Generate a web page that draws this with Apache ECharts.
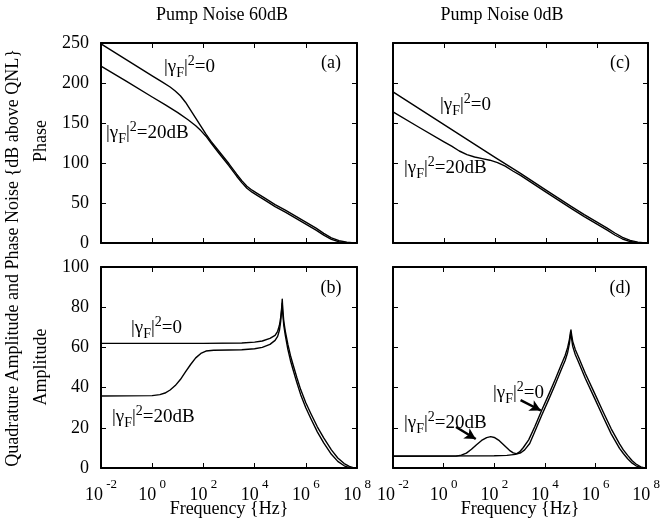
<!DOCTYPE html>
<html>
<head>
<meta charset="utf-8">
<script src="https://cdn.jsdelivr.net/npm/echarts@6/dist/echarts.min.js"></script>
<style>
html,body{margin:0;padding:0;background:#fff;}
#c{width:663px;height:523px;}
</style>
</head>
<body>
<div id="c"></div>
<script>
// ---- Data (x values are log10 of frequency in Hz) ----
const xTickExponents = [-2, 0, 2, 4, 6, 8];

// (a) Phase noise, pump noise 60 dB
const a_x0  = [-2, -1, 0, 0.4, 0.7, 0.9, 1.1, 1.3, 1.5, 1.7, 1.9, 2.1, 2.3, 2.6, 3.0, 3.3, 3.5, 3.7, 3.9, 4.1, 4.4, 4.8, 5.2, 5.6, 6.0, 6.4, 6.7, 7.0, 7.3, 7.6, 7.8, 8.0];
const a_y0  = [249, 229, 209, 201, 195, 190, 184, 176, 166, 156, 146, 136, 127, 115, 99, 86, 78, 71, 66, 62, 56, 48, 41, 33.5, 26, 18.5, 12, 6.5, 3, 1, 0.3, 0];
const a_x20 = [-2, -1, 0, 0.5, 1.0, 1.4, 1.7, 1.9, 2.1, 2.3, 2.6, 3.0, 3.3, 3.5, 3.7, 3.9, 4.1, 4.4, 4.8, 5.2, 5.6, 6.0, 6.4, 6.7, 7.0, 7.3, 7.6, 7.8, 8.0];
const a_y20 = [221, 202, 182.5, 173, 163, 154, 146.5, 140.5, 133.5, 125, 112.5, 96.5, 83.5, 75.5, 68.5, 63.5, 59.5, 53.5, 45.5, 38.5, 31, 23.5, 16, 9.8, 4.6, 1.6, 0.3, 0, 0];

// (c) Phase noise, pump noise 0 dB
const c_x0  = [-2, 0, 2, 3, 4, 5, 5.5, 6.0, 6.4, 6.7, 7.0, 7.3, 7.6, 7.8, 8.0];
const c_y0  = [189, 148, 107, 87, 66, 45.5, 35.5, 26, 18.5, 12.5, 7, 3.3, 1.1, 0.3, 0];
const c_x20 = [-2, -1, 0, 0.3, 0.6, 0.9, 1.2, 1.5, 1.8, 2.1, 2.4, 2.7, 3.0, 4.0, 5.0, 5.5, 6.0, 6.4, 6.7, 7.0, 7.3, 7.6, 7.8, 8.0];
const c_y20 = [164, 145, 126.5, 121, 115, 110.5, 107.5, 105.5, 103.5, 100.5, 96, 90, 84.5, 63.5, 43, 33, 23.5, 16, 10, 5, 1.8, 0.4, 0, 0];

// (b) Amplitude noise, pump noise 60 dB
const b_x0  = [-2, 0, 2, 3.5, 4.0, 4.3, 4.6, 4.8, 4.9, 4.97, 5.02, 5.06, 5.08, 5.1, 5.14, 5.2, 5.3, 5.4, 5.5, 5.65, 5.8, 6.0, 6.2, 6.45, 6.7, 7.0, 7.25, 7.5, 7.7, 7.85, 8.0];
const b_y0  = [62, 62, 62, 62.2, 62.6, 63.2, 64.5, 66, 68, 71, 75, 80, 84, 79, 73, 68, 61.5, 56, 51.5, 45, 39, 32.5, 27, 20.5, 15, 9, 5, 2.2, 0.8, 0.2, 0];
const b_x20 = [-2, 0, 0.3, 0.5, 0.7, 0.9, 1.1, 1.3, 1.5, 1.7, 1.9, 2.1, 2.4, 3.0, 3.5, 4.0, 4.3, 4.6, 4.8, 4.9, 4.97, 5.02, 5.06, 5.08, 5.1, 5.14, 5.2, 5.3, 5.4, 5.5, 5.65, 5.8, 6.0, 6.2, 6.45, 6.7, 7.0, 7.25, 7.5, 7.7, 7.85, 8.0];
const b_y20 = [35.8, 36, 36.5, 37.3, 38.8, 41, 44, 47.8, 51.5, 54.8, 57, 58.2, 58.6, 58.7, 58.8, 59.3, 60, 61.5, 63.5, 65.5, 68.5, 73, 79, 82, 77, 71, 66, 59, 53.5, 49, 42.5, 36.5, 30, 24.5, 18, 12.5, 6.8, 3.3, 1.1, 0.2, 0, 0];

// (d) Amplitude noise, pump noise 0 dB
const d_x0  = [-2, 2, 2.5, 2.84, 3.0, 3.15, 3.36, 3.6, 3.88, 4.15, 4.4, 4.65, 4.8, 4.9, 4.97, 5.01, 5.03, 5.06, 5.1, 5.2, 5.32, 5.6, 5.97, 6.3, 6.62, 6.95, 7.1, 7.27, 7.45, 7.6, 7.79, 7.9, 8.0];
const d_y0  = [6, 6.1, 6.3, 6.8, 8, 10.2, 14, 20.5, 28.9, 36.5, 43.8, 51.5, 56, 60, 64, 67.5, 68.7, 66, 63, 59, 55.5, 47, 37, 28, 19.5, 12, 9, 6.3, 3.6, 2, 0.6, 0.15, 0];
const d_x20 = [-2, 0.5, 0.7, 0.9, 1.1, 1.3, 1.5, 1.7, 1.86, 2.0, 2.2, 2.4, 2.6, 2.75, 2.9, 3.05, 3.2, 3.4, 3.6, 3.88, 4.15, 4.4, 4.65, 4.8, 4.9, 4.97, 5.01, 5.03, 5.06, 5.1, 5.2, 5.32, 5.6, 5.97, 6.3, 6.62, 6.95, 7.1, 7.27, 7.45, 7.6, 7.79, 7.9, 8.0];
const d_y20 = [5.8, 5.9, 6.4, 7.4, 9.3, 11.6, 13.7, 15.1, 15.6, 15.2, 13.6, 11.2, 8.8, 7.5, 7, 7.6, 9, 12.2, 18, 26.4, 34, 41.3, 49, 53.5, 57.5, 62, 66, 67.5, 64, 60.5, 56.5, 53, 44.5, 34.5, 25.5, 17, 9.8, 7.2, 4.6, 2.4, 1.1, 0.2, 0, 0];

// ---- Build chart ----
const FONT = "'Liberation Serif','Times New Roman',serif";
const zip = (xs, ys) => xs.map((x, i) => [x, ys[i]]);

const grids = [
  {left: 101, top: 43,  width: 256, height: 200},  // a
  {left: 393, top: 43,  width: 255, height: 200},  // c
  {left: 101, top: 267, width: 256, height: 201},  // b
  {left: 393, top: 267, width: 255, height: 201}   // d
];
const yRanges = [[0, 250, 50], [0, 250, 50], [0, 100, 20], [0, 100, 20]];
const showXLabels = [false, false, true, true];
const showYLabels = [true, false, true, false];

const xAxes = [], yAxes = [];
grids.forEach((g, i) => {
  const base = {
    type: 'value', gridIndex: i, min: xTickExponents[0], max: xTickExponents[xTickExponents.length - 1], interval: 2,
    axisLine: {show: true, onZero: false, lineStyle: {color: '#000', width: 2}},
    axisTick: {show: true, inside: true, length: 5, lineStyle: {color: '#000', width: 1}},
    splitLine: {show: false}
  };
  xAxes.push(Object.assign({}, base, {
    position: 'bottom',
    axisLabel: {
      show: showXLabels[i], margin: 10, color: '#000', fontFamily: FONT,
      formatter: v => '{b|10}{s| ' + v + '}',
      rich: {
        b: {fontSize: 18, fontFamily: FONT, color: '#000', lineHeight: 26, verticalAlign: 'bottom'},
        s: {fontSize: 13, fontFamily: FONT, color: '#000', lineHeight: 13, verticalAlign: 'top'}
      }
    }
  }));
  xAxes.push(Object.assign({}, base, {position: 'top', axisLabel: {show: false}}));
  const yb = {
    type: 'value', gridIndex: i, min: yRanges[i][0], max: yRanges[i][1], interval: yRanges[i][2],
    axisLine: {show: true, onZero: false, lineStyle: {color: '#000', width: 2}},
    axisTick: {show: true, inside: true, length: 5, lineStyle: {color: '#000', width: 1}},
    splitLine: {show: false}
  };
  yAxes.push(Object.assign({}, yb, {
    position: 'left',
    axisLabel: {show: showYLabels[i], margin: 12, color: '#000', fontFamily: FONT, fontSize: 18}
  }));
  yAxes.push(Object.assign({}, yb, {position: 'right', axisLabel: {show: false}}));
});

function lineSeries(gi, xs, ys, extra) {
  return Object.assign({
    type: 'line', xAxisIndex: gi * 2, yAxisIndex: gi * 2,
    data: zip(xs, ys), showSymbol: false, symbol: 'none',
    smooth: false,
    lineStyle: {color: '#000', width: 1.4, join: 'round'}, silent: true
  }, extra || {});
}

const arrowLine = (p, q) => [{coord: p}, {coord: q}];

const series = [
  lineSeries(0, a_x0, a_y0), lineSeries(0, a_x20, a_y20),
  lineSeries(1, c_x0, c_y0), lineSeries(1, c_x20, c_y20),
  lineSeries(2, b_x0, b_y0), lineSeries(2, b_x20, b_y20),
  lineSeries(3, d_x0, d_y0, {
    markLine: {
      silent: true, symbol: ['none', 'arrow'], symbolSize: [9, 11],
      lineStyle: {color: '#000', width: 2.5, type: 'solid'}, label: {show: false},
      data: [arrowLine([0.49, 20.4], [1.27, 14.4]), arrowLine([3.04, 33.8], [3.84, 28.6])]
    }
  }),
  lineSeries(3, d_x20, d_y20)
];

const gammaRich = {
  n: {fontSize: 19, fontFamily: FONT, color: '#000', lineHeight: 26, verticalAlign: 'middle'},
  sub: {fontSize: 14, fontFamily: FONT, color: '#000', lineHeight: 13, verticalAlign: 'bottom'},
  sup: {fontSize: 14, fontFamily: FONT, color: '#000', lineHeight: 13, verticalAlign: 'top'}
};
function gammaText(x, y, rhs) {
  return {
    type: 'text', left: x, top: y, silent: true,
    style: {text: '{n||γ}{sub|F}{n||}{sup|2}{n|=' + rhs + '}', rich: gammaRich}
  };
}
function plainText(x, y, txt, size, rot) {
  return {
    type: 'text', x: x, y: y, rotation: rot || 0, silent: true,
    style: {text: txt, font: size + 'px ' + FONT, fill: '#000', align: 'center', verticalAlign: 'middle'}
  };
}

const graphic = [
  plainText(222, 15, 'Pump Noise 60dB', 18),
  plainText(502, 15, 'Pump Noise 0dB', 18),
  plainText(13, 258, 'Quadrature Amplitude and Phase Noise {dB above QNL}', 18, Math.PI / 2),
  plainText(41, 141, 'Phase', 18, Math.PI / 2),
  plainText(41, 367, 'Amplitude', 18, Math.PI / 2),
  plainText(229, 509, 'Frequency {Hz}', 18),
  plainText(520, 509, 'Frequency {Hz}', 18),
  plainText(331, 63, '(a)', 18),
  plainText(620, 63, '(c)', 18),
  plainText(331, 288, '(b)', 18),
  plainText(620, 288, '(d)', 18),
  gammaText(164, 54, '0'),
  gammaText(106, 120, '20dB'),
  gammaText(440, 92, '0'),
  gammaText(404, 155, '20dB'),
  gammaText(131, 315, '0'),
  gammaText(112, 404, '20dB'),
  gammaText(493, 380, '0'),
  gammaText(404, 410, '20dB')
];

const chart = echarts.init(document.getElementById('c'), null, {renderer: 'canvas'});
chart.setOption({
  animation: false,
  backgroundColor: '#fff',
  grid: grids,
  xAxis: xAxes,
  yAxis: yAxes,
  series: series,
  graphic: graphic
});
</script>
</body>
</html>
